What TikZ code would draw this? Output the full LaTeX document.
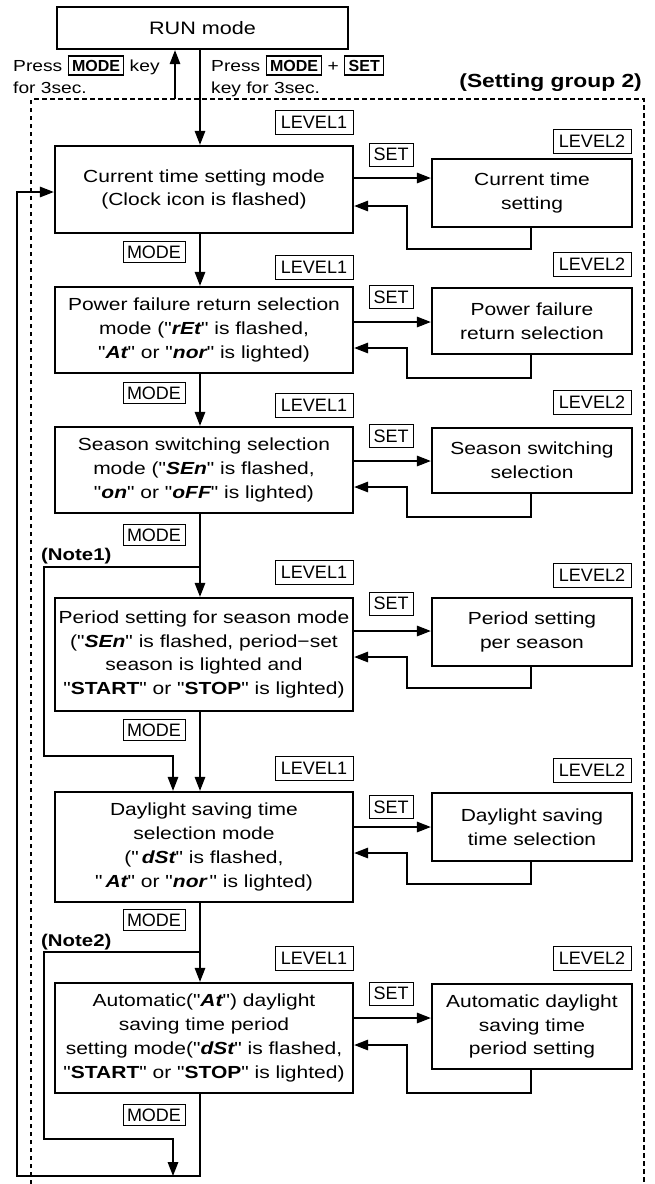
\documentclass[tikz,border=0pt]{standalone}
\usepackage{fontspec}
\newfontfamily\bodyfont[FakeStretch=1.2]{Liberation Sans}
\newfontfamily\lblfont{Liberation Sans}
\usetikzlibrary{arrows.meta}
\newcommand{\mainsz}{\bodyfont\fontsize{17.5pt}{23.7pt}\selectfont}
\newcommand{\sidesz}{\bodyfont\fontsize{16pt}{22pt}\selectfont}
\newcommand{\seg}[1]{{\bfseries\itshape #1}}
\newcommand{\kbox}[1]{{\setlength{\fboxsep}{3.2pt}\setlength{\fboxrule}{1.2pt}\fbox{\lblfont\bfseries #1}}}
\begin{document}
\begin{tikzpicture}[x=1pt,y=-1pt,
  mainbox/.style={draw, line width=2.3pt, inner sep=0pt, align=center, font=\mainsz},
  lbox/.style={mainbox, minimum width=298},
  rbox/.style={mainbox, minimum width=200},
  tag/.style={draw, line width=0.9pt, inner sep=0pt, font=\lblfont\fontsize{18pt}{20pt}\selectfont},
  lvl/.style={tag, minimum width=78, minimum height=24},
  settag/.style={tag, minimum width=44, minimum height=23},
  modetag/.style={tag, minimum width=62, minimum height=21},
  conn/.style={line width=1.6pt},
  arr/.style={conn, -{Triangle[length=14pt,width=10.5pt]}},
  grp/.style={line width=1.2pt, dash pattern=on 4.5pt off 3.5pt},
  plain/.style={inner sep=0pt, font=\sidesz},
  note/.style={inner sep=0pt, anchor=west, font=\bodyfont\fontsize{17pt}{20pt}\selectfont\bfseries},
]
\useasboundingbox (0,0) rectangle (654,1184);

% group frame
\draw[grp] (31,1184) -- (31,99) -- (644,99) -- (644,1184);

\coordinate (vx) at (200,0);
\coordinate (ux) at (175,0);

% RUN
\node[mainbox, font=\bodyfont\fontsize{18pt}{22pt}\selectfont, minimum width=291, minimum height=42] (run) at (202.5,28) {RUN mode};

% side texts
\node[plain, anchor=base west] (pl1) at (13,71) {Press \kbox{MODE} key};
\node[plain, anchor=base west] (pl2) at (13,93) {for 3sec.};
\node[plain, anchor=base west] (pr1) at (211,71) {Press \kbox{MODE} + \kbox{SET}};
\node[plain, anchor=base west] (pr2) at (211,93) {key for 3sec.};
\node[inner sep=0pt, anchor=east, font=\bodyfont\fontsize{19pt}{22pt}\selectfont\bfseries] (grpname) at (642,83) {(Setting group 2)};

% left column
\node[lbox, minimum height=87] (cur) at (204,189.5) {Current time setting mode\\(Clock icon is flashed)};
\node[lbox, minimum height=86] (pow) at (204,330) {Power failure return selection\\mode ("\seg{rEt}" is flashed,\\"\seg{At}" or "\seg{nor}" is lighted)};
\node[lbox, minimum height=86] (sea) at (204,470) {Season switching selection\\mode ("\seg{SEn}" is flashed,\\"\seg{on}" or "\seg{oFF}" is lighted)};
\node[lbox, minimum height=113] (per) at (204,654.5) {Period setting for season mode\\("\seg{SEn}" is flashed, period−set\\season is lighted and\\"\textbf{START}" or "\textbf{STOP}" is lighted)};
\node[lbox, minimum height=110] (day) at (204,847) {Daylight saving time\\selection mode\\("\,\seg{dSt}" is flashed,\\"\,\seg{At}" or "\seg{nor}\," is lighted)};
\node[lbox, minimum height=110] (aut) at (204,1038) {Automatic("\seg{At}") daylight\\saving time period\\setting mode("\seg{dSt}" is flashed,\\"\textbf{START}" or "\textbf{STOP}" is lighted)};

% right column
\node[rbox, minimum height=68] (r1) at (532,193) {Current time\\setting};
\node[rbox, minimum height=66] (r2) at (532,321) {Power failure\\return selection};
\node[rbox, minimum height=65] (r3) at (532,460.5) {Season switching\\selection};
\node[rbox, minimum height=68] (r4) at (532,632) {Period setting\\per season};
\node[rbox, minimum height=68] (r5) at (532,827) {Daylight saving\\time selection};
\node[rbox, minimum height=85] (r6) at (532,1026.5) {Automatic daylight\\saving time\\period setting};

% tags
\node[lvl] (a1) at (314,122) {LEVEL1};
\node[lvl] (a2) at (314,267) {LEVEL1};
\node[lvl] (a3) at (314,405) {LEVEL1};
\node[lvl] (a4) at (314,572) {LEVEL1};
\node[lvl] (a5) at (314,768) {LEVEL1};
\node[lvl] (a6) at (314,958) {LEVEL1};
\node[lvl] (b1) at (592,141) {LEVEL2};
\node[lvl] (b2) at (592,264) {LEVEL2};
\node[lvl] (b3) at (592,402) {LEVEL2};
\node[lvl] (b4) at (592,575) {LEVEL2};
\node[lvl] (b5) at (592,770) {LEVEL2};
\node[lvl] (b6) at (592,958) {LEVEL2};
\node[settag] (s1) at (391,154.5) {SET};
\node[settag] (s2) at (391,297) {SET};
\node[settag] (s3) at (391,436) {SET};
\node[settag] (s4) at (391,603.5) {SET};
\node[settag] (s5) at (391,807) {SET};
\node[settag] (s6) at (391,993.5) {SET};
\node[modetag] (m1) at (154,252) {MODE};
\node[modetag] (m2) at (154,393) {MODE};
\node[modetag] (m3) at (154,535) {MODE};
\node[modetag] (m4) at (154,730) {MODE};
\node[modetag] (m5) at (154,920) {MODE};
\node[modetag] (m6) at (154,1115) {MODE};

% notes
\node[note] (note1) at (41,556) {(Note1)};
\node[note] (note2) at (41,942) {(Note2)};

% RUN connections
\draw[arr] (175,99) -- (run.south -| ux);
\draw[arr] (run.south -| vx) -- (cur.north -| vx);

% main chain
\draw[arr] (cur.south -| vx) -- (pow.north -| vx);
\draw[arr] (pow.south -| vx) -- (sea.north -| vx);
\draw[arr] (sea.south -| vx) -- (per.north -| vx);
\draw[arr] (per.south -| vx) -- (day.north -| vx);
\draw[arr] (day.south -| vx) -- (aut.north -| vx);

% SET / return loops
\draw[arr] (cur.east |- 0,178) -- (r1.west |- 0,178);
\draw[arr] (r1.south -| 531,0) |- (407,249) |- (cur.east |- 0,206);
\draw[arr] (pow.east |- 0,322) -- (r2.west |- 0,322);
\draw[arr] (r2.south -| 531,0) |- (407,378) |- (pow.east |- 0,348);
\draw[arr] (sea.east |- 0,461) -- (r3.west |- 0,461);
\draw[arr] (r3.south -| 531,0) |- (407,517) |- (sea.east |- 0,487);
\draw[arr] (per.east |- 0,631) -- (r4.west |- 0,631);
\draw[arr] (r4.south -| 531,0) |- (407,688) |- (per.east |- 0,657);
\draw[arr] (day.east |- 0,827) -- (r5.west |- 0,827);
\draw[arr] (r5.south -| 531,0) |- (407,884) |- (day.east |- 0,853);
\draw[arr] (aut.east |- 0,1018) -- (r6.west |- 0,1018);
\draw[arr] (r6.south -| 531,0) |- (407,1093) |- (aut.east |- 0,1045);

% note bypass lines
\coordinate (n1s) at (200,567);
\coordinate (n2s) at (200,952);
\coordinate (bot) at (173,1176);
\draw[arr] (n1s) -| (44,756) -| (day.north -| 173,0);
\draw[arr] (n2s) -| (44,1139) -| (bot);

% return loop to current time
\draw[arr] (aut.south -| vx) |- (17,1176) |- (cur.west |- 0,192);
\end{tikzpicture}
\end{document}
